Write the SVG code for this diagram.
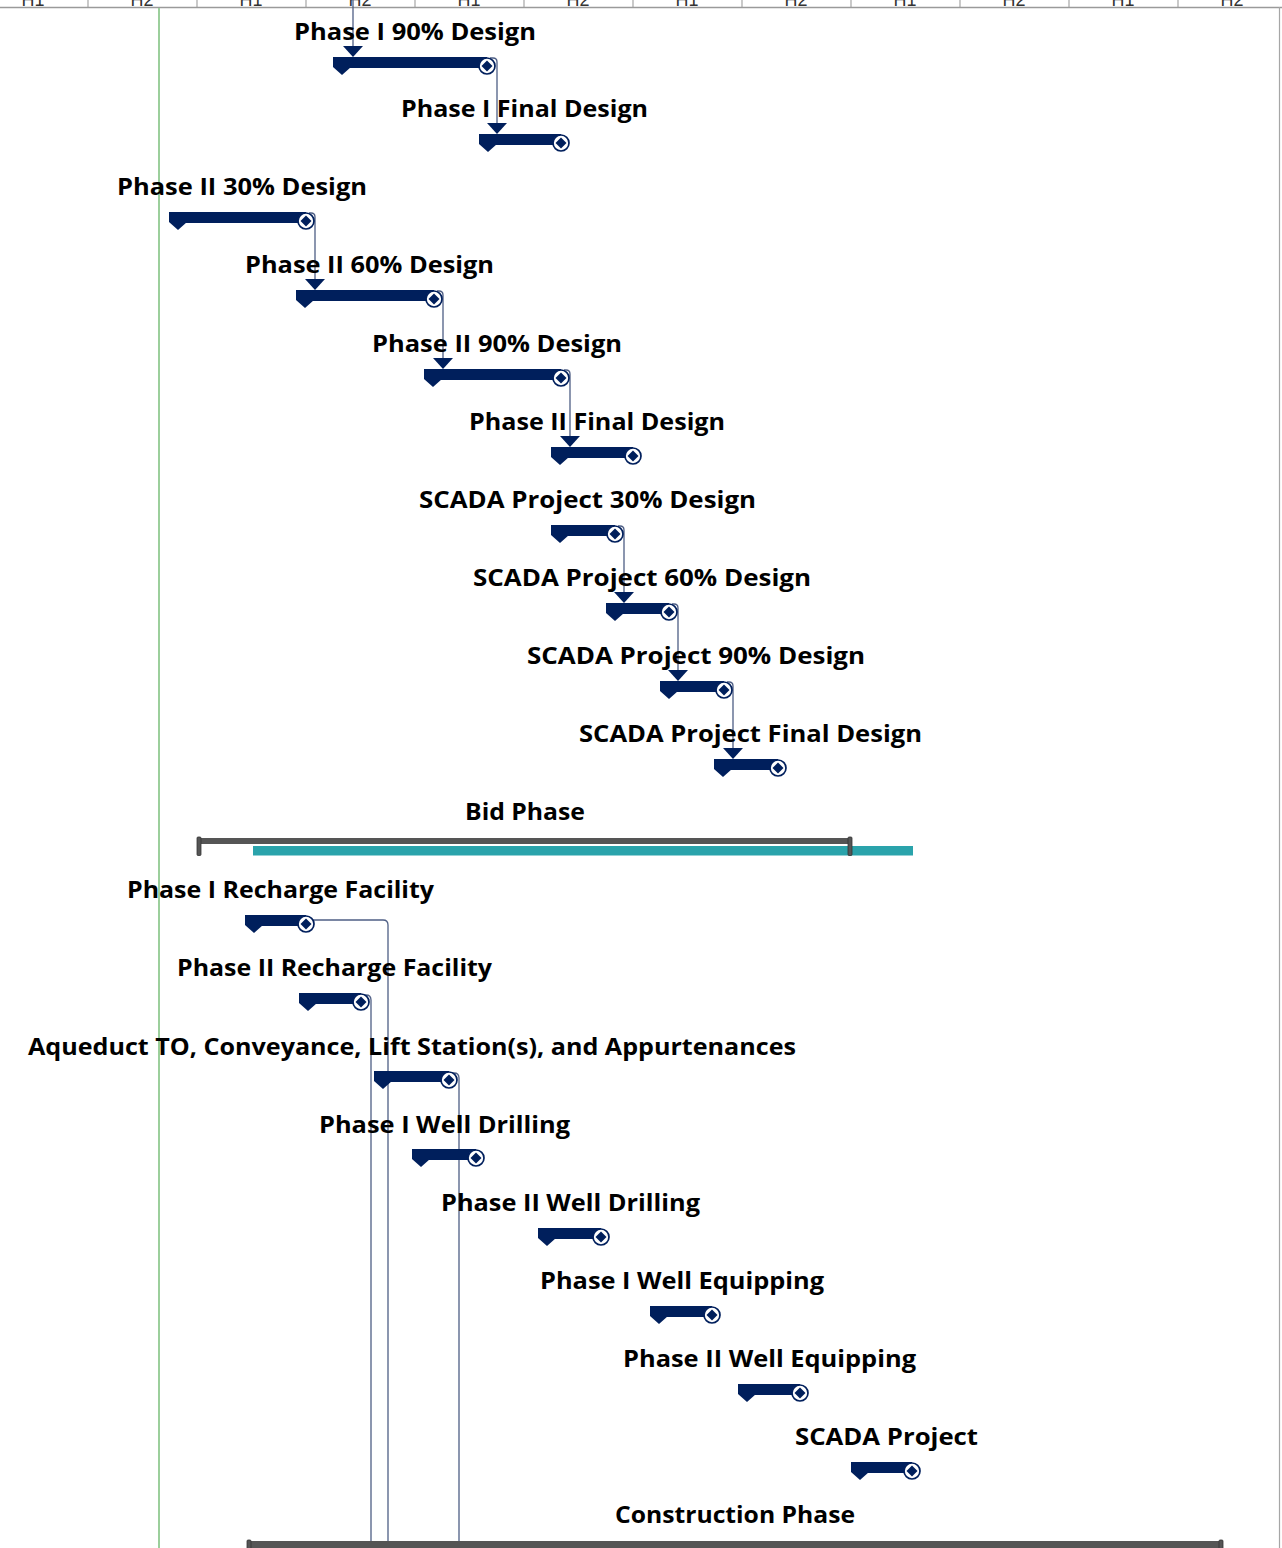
<svg xmlns="http://www.w3.org/2000/svg" width="1282" height="1548" viewBox="0 0 1282 1548">
<style>
.lbl{font-family:"Open Sans","Noto Sans","DejaVu Sans",sans-serif;font-weight:700;font-size:24px;fill:#000}
.hdr{font-family:"Liberation Sans","DejaVu Sans",sans-serif;font-size:18px;fill:#333;text-anchor:middle}
.nav{fill:#001f5c}
.ms{fill:#fff;stroke:#001f5c;stroke-width:1.7}
.con{fill:none;stroke:#4f5f85;stroke-width:1.3}
.arr{fill:#001f5c}
.sum{fill:#555}
.cap{fill:#555;stroke:#333;stroke-width:0.8}
.tick{stroke:#a6a6a6;stroke-width:1.2}
</style>
<rect x="0" y="0" width="1282" height="1548" fill="#fff"/>
<g id="header">
<text class="hdr" x="33" y="6">H1</text>
<text class="hdr" x="142" y="6">H2</text>
<text class="hdr" x="251" y="6">H1</text>
<text class="hdr" x="360" y="6">H2</text>
<text class="hdr" x="469" y="6">H1</text>
<text class="hdr" x="578" y="6">H2</text>
<text class="hdr" x="687" y="6">H1</text>
<text class="hdr" x="796" y="6">H2</text>
<text class="hdr" x="905" y="6">H1</text>
<text class="hdr" x="1014" y="6">H2</text>
<text class="hdr" x="1123" y="6">H1</text>
<text class="hdr" x="1232" y="6">H2</text>
<line class="tick" x1="88" y1="0" x2="88" y2="7"/>
<line class="tick" x1="197" y1="0" x2="197" y2="7"/>
<line class="tick" x1="306" y1="0" x2="306" y2="7"/>
<line class="tick" x1="415" y1="0" x2="415" y2="7"/>
<line class="tick" x1="524" y1="0" x2="524" y2="7"/>
<line class="tick" x1="633" y1="0" x2="633" y2="7"/>
<line class="tick" x1="742" y1="0" x2="742" y2="7"/>
<line class="tick" x1="851" y1="0" x2="851" y2="7"/>
<line class="tick" x1="960" y1="0" x2="960" y2="7"/>
<line class="tick" x1="1069" y1="0" x2="1069" y2="7"/>
<line class="tick" x1="1178" y1="0" x2="1178" y2="7"/>
<line x1="0" y1="7.5" x2="1282" y2="7.5" stroke="#9a9a9a" stroke-width="1.5"/>
<line x1="1279.5" y1="7" x2="1279.5" y2="1548" stroke="#a6a6a6" stroke-width="1.2"/>
<line x1="159" y1="8" x2="159" y2="1548" stroke="#9ccf9c" stroke-width="2"/>
</g>

<g id="connectors">
<path class="con" d="M353,0 V47"/>
<path class="arr" d="M343,46 H363 L353,57 Z"/>
<path class="con" d="M490,58 H493 Q497,58 497,62 V124"/>
<path class="arr" d="M487,123 H507 L497,134 Z"/>
<path class="con" d="M309,213 H311 Q315,213 315,217 V280"/>
<path class="arr" d="M305,279 H325 L315,290 Z"/>
<path class="con" d="M437,291 H439 Q443,291 443,295 V359"/>
<path class="arr" d="M433,358 H453 L443,369 Z"/>
<path class="con" d="M564,370 H566 Q570,370 570,374 V437"/>
<path class="arr" d="M560,436 H580 L570,447 Z"/>
<path class="con" d="M618,526 H620 Q624,526 624,530 V593"/>
<path class="arr" d="M614,592 H634 L624,603 Z"/>
<path class="con" d="M672,604 H674 Q678,604 678,608 V671"/>
<path class="arr" d="M668,670 H688 L678,681 Z"/>
<path class="con" d="M727,682 H729 Q733,682 733,686 V749"/>
<path class="arr" d="M723,748 H743 L733,759 Z"/>
<path class="con" d="M309,920 H383 Q388,920 388,925 V1548"/>
<path class="con" d="M364,995 H366 Q371,995 371,1000 V1548"/>
<path class="con" d="M452,1073 H454 Q459,1073 459,1078 V1548"/>
</g>

<g id="t1">
<text class="lbl" x="294" y="40" textLength="242" lengthAdjust="spacingAndGlyphs">Phase I 90% Design</text>
<path class="nav" d="M333,57 H351 V67 L342,75 L333,67 Z"/>
<rect class="nav" x="350" y="57" width="137" height="11"/>
<circle class="ms" cx="487" cy="66" r="8"/>
<path class="nav" d="M487,60.5 L492.5,66 L487,71.5 L481.5,66 Z"/>
</g>
<g id="t2">
<text class="lbl" x="401" y="117" textLength="247" lengthAdjust="spacingAndGlyphs">Phase I Final Design</text>
<path class="nav" d="M479,134 H497 V144 L488,152 L479,144 Z"/>
<rect class="nav" x="496" y="134" width="65" height="11"/>
<circle class="ms" cx="561" cy="143" r="8"/>
<path class="nav" d="M561,137.5 L566.5,143 L561,148.5 L555.5,143 Z"/>
</g>
<g id="t3">
<text class="lbl" x="117" y="195" textLength="250" lengthAdjust="spacingAndGlyphs">Phase II 30% Design</text>
<path class="nav" d="M169,212 H187 V222 L178,230 L169,222 Z"/>
<rect class="nav" x="186" y="212" width="120" height="11"/>
<circle class="ms" cx="306" cy="221" r="8"/>
<path class="nav" d="M306,215.5 L311.5,221 L306,226.5 L300.5,221 Z"/>
</g>
<g id="t4">
<text class="lbl" x="245" y="273" textLength="249" lengthAdjust="spacingAndGlyphs">Phase II 60% Design</text>
<path class="nav" d="M296,290 H314 V300 L305,308 L296,300 Z"/>
<rect class="nav" x="313" y="290" width="121" height="11"/>
<circle class="ms" cx="434" cy="299" r="8"/>
<path class="nav" d="M434,293.5 L439.5,299 L434,304.5 L428.5,299 Z"/>
</g>
<g id="t5">
<text class="lbl" x="372" y="352" textLength="250" lengthAdjust="spacingAndGlyphs">Phase II 90% Design</text>
<path class="nav" d="M424,369 H442 V379 L433,387 L424,379 Z"/>
<rect class="nav" x="441" y="369" width="120" height="11"/>
<circle class="ms" cx="561" cy="378" r="8"/>
<path class="nav" d="M561,372.5 L566.5,378 L561,383.5 L555.5,378 Z"/>
</g>
<g id="t6">
<text class="lbl" x="469" y="430" textLength="256" lengthAdjust="spacingAndGlyphs">Phase II Final Design</text>
<path class="nav" d="M551,447 H569 V457 L560,465 L551,457 Z"/>
<rect class="nav" x="568" y="447" width="65" height="11"/>
<circle class="ms" cx="633" cy="456" r="8"/>
<path class="nav" d="M633,450.5 L638.5,456 L633,461.5 L627.5,456 Z"/>
</g>
<g id="t7">
<text class="lbl" x="419" y="508" textLength="337" lengthAdjust="spacingAndGlyphs">SCADA Project 30% Design</text>
<path class="nav" d="M551,525 H569 V535 L560,543 L551,535 Z"/>
<rect class="nav" x="568" y="525" width="47" height="11"/>
<circle class="ms" cx="615" cy="534" r="8"/>
<path class="nav" d="M615,528.5 L620.5,534 L615,539.5 L609.5,534 Z"/>
</g>
<g id="t8">
<text class="lbl" x="473" y="586" textLength="338" lengthAdjust="spacingAndGlyphs">SCADA Project 60% Design</text>
<path class="nav" d="M606,603 H624 V613 L615,621 L606,613 Z"/>
<rect class="nav" x="623" y="603" width="46" height="11"/>
<circle class="ms" cx="669" cy="612" r="8"/>
<path class="nav" d="M669,606.5 L674.5,612 L669,617.5 L663.5,612 Z"/>
</g>
<g id="t9">
<text class="lbl" x="527" y="664" textLength="338" lengthAdjust="spacingAndGlyphs">SCADA Project 90% Design</text>
<path class="nav" d="M660,681 H678 V691 L669,699 L660,691 Z"/>
<rect class="nav" x="677" y="681" width="47" height="11"/>
<circle class="ms" cx="724" cy="690" r="8"/>
<path class="nav" d="M724,684.5 L729.5,690 L724,695.5 L718.5,690 Z"/>
</g>
<g id="t10">
<text class="lbl" x="579" y="742" textLength="343" lengthAdjust="spacingAndGlyphs">SCADA Project Final Design</text>
<path class="nav" d="M714,759 H732 V769 L723,777 L714,769 Z"/>
<rect class="nav" x="731" y="759" width="47" height="11"/>
<circle class="ms" cx="778" cy="768" r="8"/>
<path class="nav" d="M778,762.5 L783.5,768 L778,773.5 L772.5,768 Z"/>
</g>
<g id="t11">
<text class="lbl" x="465" y="820" textLength="120" lengthAdjust="spacingAndGlyphs">Bid Phase</text>
<rect x="253" y="846" width="660" height="9.5" fill="#2aa3ab"/>
<rect class="sum" x="199" y="838" width="651" height="6"/>
<rect class="cap" x="197" y="837" width="4" height="18.5" rx="1"/>
<rect class="cap" x="848" y="837" width="4" height="18.5" rx="1"/>
</g>
<g id="t12">
<text class="lbl" x="127" y="898" textLength="307" lengthAdjust="spacingAndGlyphs">Phase I Recharge Facility</text>
<path class="nav" d="M245,915 H263 V925 L254,933 L245,925 Z"/>
<rect class="nav" x="262" y="915" width="44" height="11"/>
<circle class="ms" cx="306" cy="924" r="8"/>
<path class="nav" d="M306,918.5 L311.5,924 L306,929.5 L300.5,924 Z"/>
</g>
<g id="t13">
<text class="lbl" x="177" y="976" textLength="315" lengthAdjust="spacingAndGlyphs">Phase II Recharge Facility</text>
<path class="nav" d="M299,993 H317 V1003 L308,1011 L299,1003 Z"/>
<rect class="nav" x="316" y="993" width="45" height="11"/>
<circle class="ms" cx="361" cy="1002" r="8"/>
<path class="nav" d="M361,996.5 L366.5,1002 L361,1007.5 L355.5,1002 Z"/>
</g>
<g id="t14">
<text class="lbl" x="28" y="1055" textLength="768" lengthAdjust="spacingAndGlyphs">Aqueduct TO, Conveyance, Lift Station(s), and Appurtenances</text>
<path class="nav" d="M374,1071 H392 V1081 L383,1089 L374,1081 Z"/>
<rect class="nav" x="391" y="1071" width="58" height="11"/>
<circle class="ms" cx="449" cy="1080" r="8"/>
<path class="nav" d="M449,1074.5 L454.5,1080 L449,1085.5 L443.5,1080 Z"/>
</g>
<g id="t15">
<text class="lbl" x="319" y="1133" textLength="251" lengthAdjust="spacingAndGlyphs">Phase I Well Drilling</text>
<path class="nav" d="M412,1149 H430 V1159 L421,1167 L412,1159 Z"/>
<rect class="nav" x="429" y="1149" width="47" height="11"/>
<circle class="ms" cx="476" cy="1158" r="8"/>
<path class="nav" d="M476,1152.5 L481.5,1158 L476,1163.5 L470.5,1158 Z"/>
</g>
<g id="t16">
<text class="lbl" x="441" y="1211" textLength="259" lengthAdjust="spacingAndGlyphs">Phase II Well Drilling</text>
<path class="nav" d="M538,1228 H556 V1238 L547,1246 L538,1238 Z"/>
<rect class="nav" x="555" y="1228" width="46" height="11"/>
<circle class="ms" cx="601" cy="1237" r="8"/>
<path class="nav" d="M601,1231.5 L606.5,1237 L601,1242.5 L595.5,1237 Z"/>
</g>
<g id="t17">
<text class="lbl" x="540" y="1289" textLength="284" lengthAdjust="spacingAndGlyphs">Phase I Well Equipping</text>
<path class="nav" d="M650,1306 H668 V1316 L659,1324 L650,1316 Z"/>
<rect class="nav" x="667" y="1306" width="45" height="11"/>
<circle class="ms" cx="712" cy="1315" r="8"/>
<path class="nav" d="M712,1309.5 L717.5,1315 L712,1320.5 L706.5,1315 Z"/>
</g>
<g id="t18">
<text class="lbl" x="623" y="1367" textLength="293" lengthAdjust="spacingAndGlyphs">Phase II Well Equipping</text>
<path class="nav" d="M738,1384 H756 V1394 L747,1402 L738,1394 Z"/>
<rect class="nav" x="755" y="1384" width="45" height="11"/>
<circle class="ms" cx="800" cy="1393" r="8"/>
<path class="nav" d="M800,1387.5 L805.5,1393 L800,1398.5 L794.5,1393 Z"/>
</g>
<g id="t19">
<text class="lbl" x="795" y="1445" textLength="183" lengthAdjust="spacingAndGlyphs">SCADA Project</text>
<path class="nav" d="M851,1462 H869 V1472 L860,1480 L851,1472 Z"/>
<rect class="nav" x="868" y="1462" width="44" height="11"/>
<circle class="ms" cx="912" cy="1471" r="8"/>
<path class="nav" d="M912,1465.5 L917.5,1471 L912,1476.5 L906.5,1471 Z"/>
</g>
<g id="t20">
<text class="lbl" x="615" y="1523" textLength="240" lengthAdjust="spacingAndGlyphs">Construction Phase</text>
<rect class="sum" x="249" y="1541" width="972" height="8"/>
<rect class="cap" x="247" y="1540" width="4" height="12" rx="1"/>
<rect class="cap" x="1219" y="1540" width="4" height="12" rx="1"/>
</g>
</svg>
